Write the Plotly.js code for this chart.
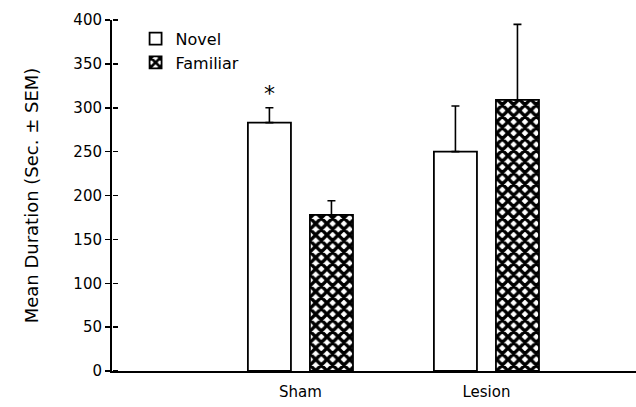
<!DOCTYPE html>
<html>
<head>
<meta charset="utf-8">
<script src="https://cdn.plot.ly/plotly-3.0.1.min.js"></script>
<style>html,body{margin:0;padding:0;background:#fff;}#chart{width:636px;height:407px;}</style>
</head>
<body>
<div id="chart"></div>
<script>
const groups = ["Sham", "Lesion"];
const novelMean = [283, 250];
const novelSem = [17, 52];
const familiarMean = [178, 309];
const familiarSem = [16, 86];
const yTicks = [0, 50, 100, 150, 200, 250, 300, 350, 400];
const sigMark = "*";

const font = {family: "DejaVu Sans, sans-serif", color: "#000"};

const traces = [
  {
    type: "bar", name: "Novel", x: groups, y: novelMean,
    marker: {color: "#fff", line: {color: "#000", width: 1.8}},
    error_y: {type: "data", symmetric: false, array: novelSem, arrayminus: [0, 0], color: "#000", thickness: 1.6, width: 4}
  },
  {
    type: "bar", name: "Familiar", x: groups, y: familiarMean,
    marker: {color: "#fff", line: {color: "#000", width: 1.8},
      pattern: {shape: "x", fgcolor: "#000", fgopacity: 1, bgcolor: "#fff", size: 8, solidity: 0.66, fillmode: "overlay"}},
    error_y: {type: "data", symmetric: false, array: familiarSem, arrayminus: [0, 0], color: "#000", thickness: 1.6, width: 4}
  },
  {
    type: "scatter", x: groups, y: novelMean, yaxis: "y2", mode: "markers", marker: {opacity: 0, size: 1},
    showlegend: false, hoverinfo: "skip"
  }
];

const layout = {
  width: 636, height: 407,
  margin: {l: 112, r: 0, t: 20, b: 36},
  paper_bgcolor: "#fff", plot_bgcolor: "#fff",
  font: Object.assign({size: 14}, font),
  barmode: "group", bargap: 0.333, bargroupgap: 0.306,
  showlegend: true,
  legend: {x: 0.045, y: 0.995, xanchor: "left", yanchor: "top", bgcolor: "rgba(0,0,0,0)",
    font: Object.assign({size: 16}, font), itemwidth: 30, tracegroupgap: 0},
  xaxis: {
    type: "category", range: [-1.013, 1.804], showgrid: false, zeroline: false,
    showline: true, linecolor: "#000", linewidth: 2, ticks: "", tickfont: Object.assign({size: 15}, font),
    ticklabelstandoff: 6
  },
  yaxis: {
    range: [0, 400], tickvals: yTicks, showgrid: false, zeroline: false,
    showline: true, linecolor: "#000", linewidth: 2, ticks: "outside", ticklen: 5, tickwidth: 1.5, tickcolor: "#000",
    tickfont: Object.assign({size: 15}, font),
    title: {text: "Mean Duration (Sec. ± SEM)", font: Object.assign({size: 18}, font), standoff: 30}
  },
  yaxis2: {
    overlaying: "y", anchor: "free", position: 0, side: "right", range: [0, 400], tickvals: yTicks,
    showgrid: false, zeroline: false, showline: false,
    ticks: "outside", ticklen: 5, tickwidth: 1.5, tickcolor: "#000", showticklabels: false
  },
  annotations: [
    {x: -0.167, y: novelMean[0] + novelSem[0], xref: "x", yref: "y", text: sigMark, showarrow: false,
     yanchor: "bottom", yshift: 0, font: Object.assign({size: 22}, font)}
  ]
};

Plotly.newPlot("chart", traces, layout, {displayModeBar: false, staticPlot: true});
</script>
</body>
</html>
